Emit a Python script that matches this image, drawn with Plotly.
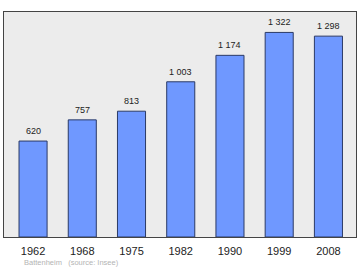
import plotly.graph_objects as go

years = ["1962", "1968", "1975", "1982", "1990", "1999", "2008"]
population = [620, 757, 813, 1003, 1174, 1322, 1298]
labels = ["620", "757", "813", "1 003", "1 174", "1 322", "1 298"]

fig = go.Figure()
fig.add_trace(go.Bar(
    x=years, y=population, width=0.57,
    marker=dict(color="#6f98ff", line=dict(color="#2b3a66", width=1)),
    hoverinfo="skip",
))
for i, (v, lab) in enumerate(zip(population, labels)):
    fig.add_annotation(x=i, y=v, text=lab, showarrow=False, yshift=10,
                       font=dict(family="Liberation Sans", size=9, color="#222"))

fig.add_annotation(xref="paper", yref="paper", x=0.05, y=-0.113, xanchor="left", yanchor="middle",
                   text="Battenheim&nbsp;&nbsp;&nbsp;(source: Insee)", showarrow=False,
                   font=dict(family="Liberation Sans", size=7.5, color="#b4b4b4"))

fig.update_layout(
    width=360, height=270,
    margin=dict(l=4, r=4, t=12, b=33),
    paper_bgcolor="white", plot_bgcolor="#ececec",
    showlegend=False,
    xaxis=dict(type="category", range=[-0.59, 6.56], showgrid=False, showline=True, mirror=True,
               linecolor="#444", linewidth=1, ticks="", ticklabelstandoff=4,
               tickfont=dict(family="Liberation Sans", size=11, color="#222")),
    yaxis=dict(range=[0, 1454], showgrid=False, showline=True, mirror=True, linecolor="#444",
               linewidth=1, showticklabels=False, ticks="", zeroline=False),
)
fig.write_html("out.html")
